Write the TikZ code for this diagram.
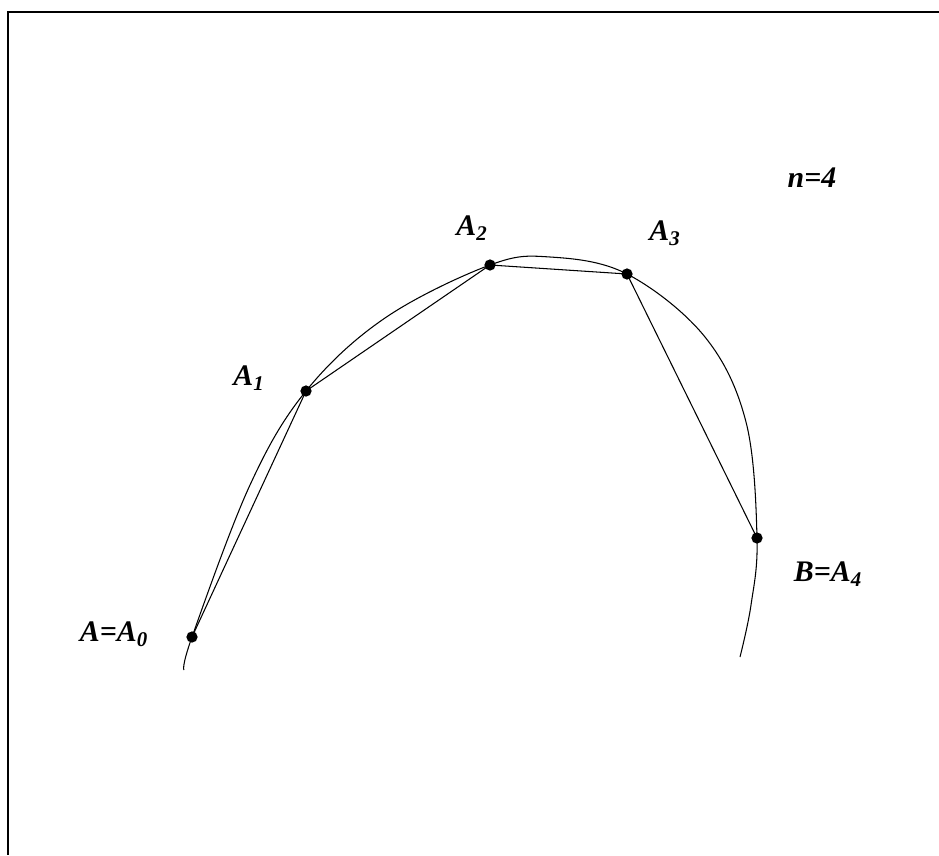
\documentclass[tikz,border=0pt]{standalone}
\usepackage{fontspec}
\setmainfont{Liberation Serif}
\usetikzlibrary{positioning}

\begin{document}
\begin{tikzpicture}[
    x=0.02cm, y=-0.02cm,
    pt/.style={circle, fill=black, inner sep=0pt, minimum size=6.4pt},
    lbl/.style={font=\fontsize{17}{20}\selectfont\bfseries\itshape},
    chord/.style={line width=0.6pt},
    arc/.style={line width=0.6pt},
    frame/.style={line width=1.2pt}
]
    \useasboundingbox (0,0) rectangle (939,855);
    \draw[frame] (939,12) -- (8,12) -- (8,855);

    % points on the arc
    \node[pt] (a0) at (192,637) {};
    \node[pt] (a1) at (306,391) {};
    \node[pt] (a2) at (490,265) {};
    \node[pt] (a3) at (627,274) {};
    \node[pt] (a4) at (757,538) {};

    % the arc itself
    \draw[arc] plot[smooth, tension=0.6] coordinates {
        (184,670) (192,637) (250,485) (306,391)
        (385,318) (490,265) (550,257)
        (627,274) (705,337) (746,422)
        (757,538) (751,605) (740,657)};

    % chords
    \draw[chord] (a0.center) -- (a1.center) -- (a2.center)
        -- (a3.center) -- (a4.center);

    \node[lbl] (l0) at (114,634) {A=A\textsubscript{0}};
    \node[lbl] (l1) at (249,378) {A\textsubscript{1}};
    \node[lbl] (l2) at (472,228) {A\textsubscript{2}};
    \node[lbl] (l3) at (665,233) {A\textsubscript{3}};
    \node[lbl] (l4) at (828,574) {B=A\textsubscript{4}};
    \node[lbl] (n) at (812,178) {n=4};
\end{tikzpicture}
\end{document}
